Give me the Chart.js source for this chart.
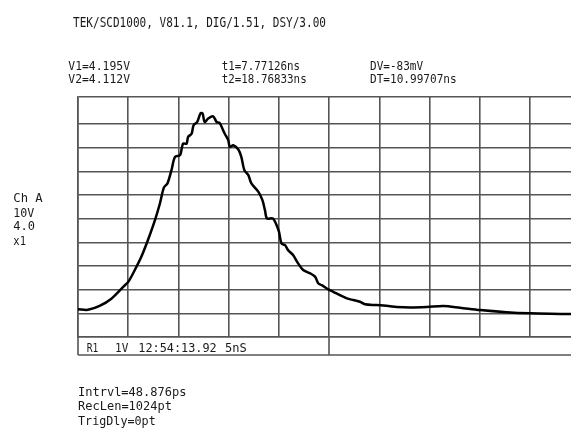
<!DOCTYPE html>
<html><head><meta charset="utf-8">
<script src="https://cdn.jsdelivr.net/npm/chart.js@4.4.0/dist/chart.umd.min.js"></script>
<style>html,body{margin:0;padding:0;background:#fff;overflow:hidden}#wrap{position:relative;width:571px;height:428px}</style>
</head><body><div id="wrap"><canvas id="c" width="571" height="428"></canvas></div>
<script>
// Waveform, in screen divisions (x: time divisions, y: vertical divisions)
const timeDiv = [0.00,0.20,0.43,0.67,0.90,1.00,1.13,1.26,1.39,1.53,1.63,1.71,1.78,1.86,1.93,2.03,2.09,2.16,2.19,2.26,2.30,2.37,2.44,2.48,2.52,2.59,2.69,2.76,2.82,2.86,2.92,2.99,3.02,3.09,3.19,3.25,3.31,3.39,3.45,3.59,3.67,3.72,3.76,3.88,3.95,4.00,4.05,4.12,4.18,4.28,4.38,4.48,4.62,4.72,4.78,4.85,4.98,5.08,5.21,5.35,5.48,5.61,5.71,5.94,6.18,6.34,6.61,6.94,7.27,7.60,8.00,8.53,9.00,9.40,9.81];
const voltDiv = [1.17,1.15,1.31,1.63,2.12,2.33,2.83,3.39,4.09,4.93,5.64,6.32,6.49,7.05,7.61,7.68,8.17,8.17,8.45,8.59,8.95,9.08,9.46,9.44,9.08,9.23,9.32,9.08,9.04,8.87,8.59,8.31,8.03,8.10,7.92,7.61,7.05,6.84,6.49,6.13,5.78,5.36,5.01,5.01,4.73,4.44,3.95,3.88,3.67,3.46,3.11,2.83,2.69,2.54,2.27,2.19,2.01,1.91,1.77,1.63,1.56,1.49,1.38,1.35,1.31,1.27,1.25,1.27,1.31,1.24,1.14,1.05,1.00,0.98,0.97];
const xGridTicks = [0,1,2,3,4,5,6,7,8,9];
const yGridTicks = [0,1,2,3,4,5,6,7,8,9,10.14];
const xMax = 9.81, yMax = 10.14;

const headerText = "TEK/SCD1000, V81.1, DIG/1.51, DSY/3.00";
const cursorV = ["V1=4.195V", "V2=4.112V"];
const cursorT = ["t1=7.77126ns", "t2=18.76833ns"];
const deltas = ["DV=-83mV", "DT=10.99707ns"];
const channelInfo = ["Ch A", "10V", "4.0", "x1"];
const recordInfo = ["Intrvl=48.876ps", "RecLen=1024pt", "TrigDly=0pt"];
const statusParts = ["R1", "1V", "12:54:13.92", "5nS"];
const statusDividerAt = 5;

const FONT = '"DejaVu Sans Mono","Liberation Mono",monospace';
function fitText(ctx, str, x, base, size, width){
  ctx.save();
  ctx.font = size + 'px ' + FONT;
  const w = ctx.measureText(str).width;
  ctx.translate(x, base);
  ctx.scale(width / w, 1);
  ctx.fillStyle = '#1a1a1a';
  ctx.textBaseline = 'alphabetic';
  ctx.fillText(str, 0, 0);
  ctx.restore();
}

const decor = {
  id: 'decor',
  beforeDatasetsDraw(chart){
    const ctx = chart.ctx, a = chart.chartArea, xs = chart.scales.x;
    const sb = a.bottom + 18;
    ctx.save();
    ctx.strokeStyle = '#555';
    ctx.lineWidth = 1.6;
    ctx.beginPath();
    ctx.moveTo(a.left, a.bottom); ctx.lineTo(a.left, sb);
    const dx = Math.round(xs.getPixelForValue(statusDividerAt));
    ctx.moveTo(dx, a.bottom); ctx.lineTo(dx, sb);
    ctx.moveTo(a.left, sb); ctx.lineTo(a.right, sb);
    ctx.stroke();
    ctx.restore();
  },
  afterDraw(chart){
    const ctx = chart.ctx;
    fitText(ctx, headerText, 73, 26.7, 14.5, 253);
    fitText(ctx, cursorV[0], 68.3, 70, 12.3, 61.7);
    fitText(ctx, cursorV[1], 68.3, 83.3, 12.3, 61.7);
    fitText(ctx, cursorT[0], 221.7, 70, 12.3, 78.3);
    fitText(ctx, cursorT[1], 221.7, 83.3, 12.3, 85);
    fitText(ctx, deltas[0], 370, 70, 12.3, 53);
    fitText(ctx, deltas[1], 370, 83.3, 12.3, 86.7);
    const chW = [29.4, 21, 21.7, 12.7];
    const chB = [201.7, 216.7, 230, 245];
    channelInfo.forEach((t,i)=>fitText(ctx, t, 13.3, chB[i], 12.3, chW[i]));
    const rW = [108.4, 94, 77.7];
    const rB = [395.5, 410, 424.5];
    recordInfo.forEach((t,i)=>fitText(ctx, t, 78, rB[i], 12.3, rW[i]));
    const sX = [86.7, 115, 138.3, 225];
    const sW = [11.6, 13.3, 78.4, 21.7];
    statusParts.forEach((t,i)=>fitText(ctx, t, sX[i], 351.7, 12.3, sW[i]));
  }
};

new Chart(document.getElementById('c'), {
  type: 'line',
  data: { datasets: [{
    data: timeDiv.map((t,i)=>({x:t, y:voltDiv[i]})),
    borderColor: '#000', borderWidth: 2.5, pointRadius: 0, tension: 0.3, fill: false
  }]},
  options: {
    responsive: false, animation: false, devicePixelRatio: 1,
    layout: { padding: { left: 78, top: 97, right: 0, bottom: 91 } },
    plugins: { legend: { display: false }, tooltip: { enabled: false }, title: { display: false } },
    scales: {
      x: { type: 'linear', min: 0, max: xMax,
        afterBuildTicks: s => { s.ticks = xGridTicks.map(v=>({value:v})); },
        ticks: { display: false },
        grid: { color: '#555', lineWidth: 1.6, drawTicks: false },
        border: { display: true, color: '#555', width: 1.6 } },
      y: { type: 'linear', min: 0, max: yMax,
        afterBuildTicks: s => { s.ticks = yGridTicks.map(v=>({value:v})); },
        ticks: { display: false },
        grid: { color: '#555', lineWidth: 1.6, drawTicks: false },
        border: { display: true, color: '#555', width: 1.6 } }
    }
  },
  plugins: [decor]
});
</script></body></html>
